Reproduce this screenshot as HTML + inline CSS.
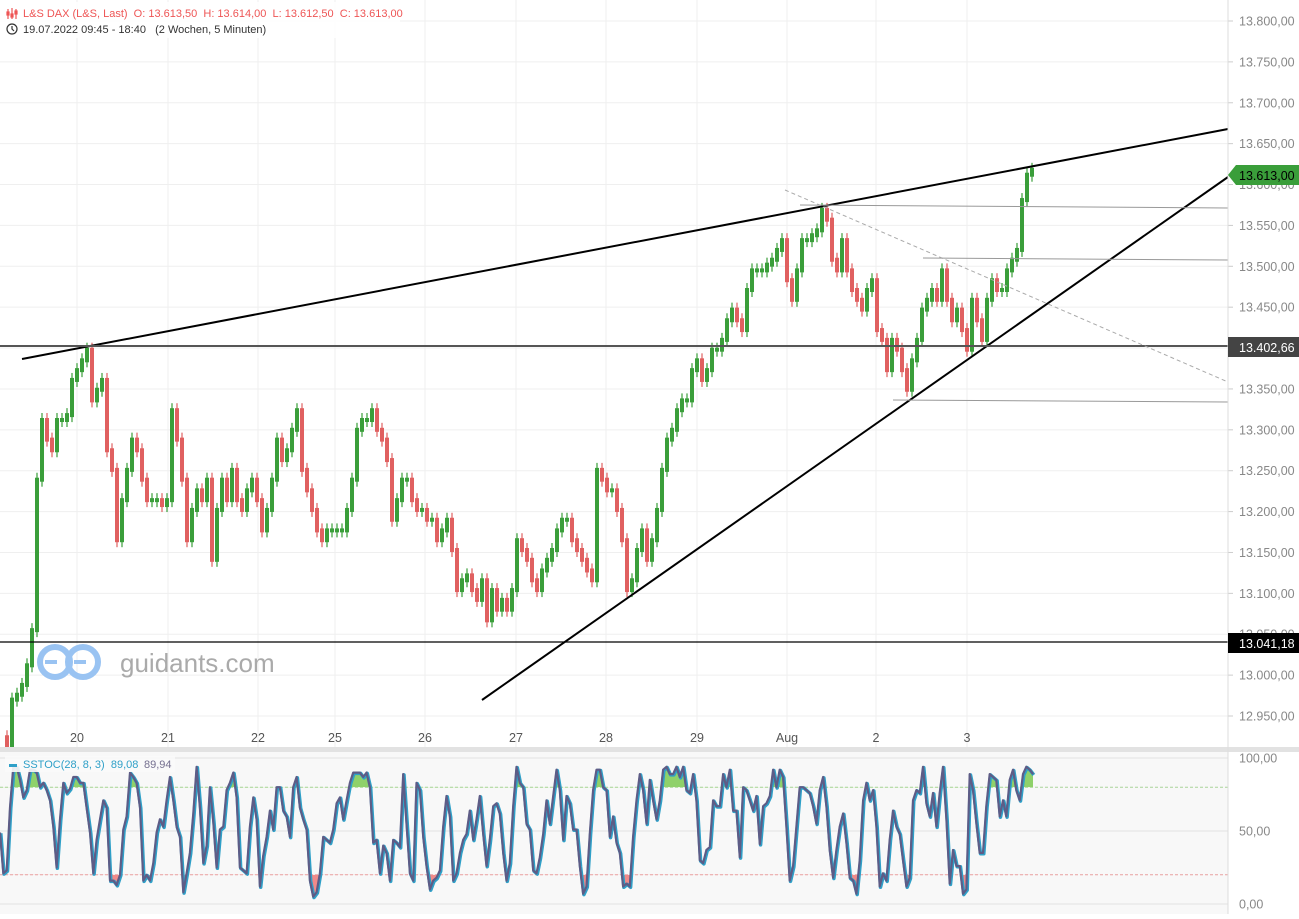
<!DOCTYPE html>
<html><head><meta charset="utf-8">
<style>
html,body{margin:0;padding:0;background:#fff;}
body{width:1299px;height:914px;overflow:hidden;font-family:"Liberation Sans",sans-serif;}
svg text{font-family:"Liberation Sans",sans-serif;white-space:pre;}
</style></head>
<body>
<svg id="chart" width="1299" height="914" viewBox="0 0 1299 914" xmlns="http://www.w3.org/2000/svg">
  <rect x="0" y="0" width="1299" height="914" fill="#fff"/>
  <g id="grid"></g>
  <g id="watermark">
    <circle cx="55" cy="662" r="15" fill="none" stroke="#99c3f2" stroke-width="6"/>
    <circle cx="83" cy="662" r="15" fill="none" stroke="#99c3f2" stroke-width="6"/>
    <rect x="45" y="660" width="12" height="4" fill="#99c3f2"/>
    <rect x="74" y="660" width="12" height="4" fill="#99c3f2"/>
    <text x="120" y="672" font-size="26" fill="#aaa">guidants.com</text>
  </g>
  <g id="candles"></g>
  <g id="drawings">
    <line x1="22" y1="359" x2="1228" y2="129" stroke="#000" stroke-width="2"/>
    <line x1="482" y1="700" x2="1228" y2="177" stroke="#000" stroke-width="2"/>
    <line x1="0" y1="346" x2="1228" y2="346" stroke="#555" stroke-width="2"/>
    <line x1="0" y1="642" x2="1228" y2="642" stroke="#000" stroke-width="1.3"/>
    <line x1="785" y1="190" x2="1228" y2="382" stroke="#aaa" stroke-width="1" stroke-dasharray="4,3"/>
    <line x1="800" y1="205" x2="1228" y2="208" stroke="#999" stroke-width="1"/>
    <line x1="923" y1="258" x2="1228" y2="260" stroke="#999" stroke-width="1"/>
    <line x1="893" y1="400" x2="1228" y2="402" stroke="#999" stroke-width="1"/>
  </g>
  <g id="yaxis"></g>
  <g id="xaxis"></g>
  <rect x="0" y="747" width="1299" height="5" fill="#e2e2e2"/>
  <rect x="0" y="752" width="1228" height="162" fill="#f8f8f8"/>
  <g id="stoch"></g>
  <line x1="1228" y1="0" x2="1228" y2="914" stroke="#ddd" stroke-width="1"/>
  <g id="labels">
    <rect x="1228" y="337" width="71" height="20" fill="#444"/>
    <text x="1239" y="352" font-size="12.5" fill="#fff">13.402,66</text>
    <rect x="1228" y="633" width="71" height="20" fill="#000"/>
    <text x="1239" y="648" font-size="12.5" fill="#fff">13.041,18</text>
    <polygon points="1228,175 1236,165 1299,165 1299,185 1236,185" fill="#3a9e3a"/>
    <text x="1239" y="180" font-size="12.5" fill="#000">13.613,00</text>
  </g>
  <g id="header">
    <rect x="0" y="2" width="400" height="36" fill="#fff" opacity="0.85"/>
    <g stroke="#e55" stroke-width="1.2" fill="none">
      <line x1="8" y1="9" x2="8" y2="19"/><line x1="12" y1="8" x2="12" y2="19"/><line x1="16" y1="9" x2="16" y2="19"/>
      <rect x="7" y="12" width="2" height="3"/><rect x="11" y="14" width="2" height="3"/><rect x="15" y="11" width="2" height="3"/>
    </g>
    <text x="23" y="17" font-size="11" fill="#e55" xml:space="preserve">L&amp;S DAX (L&amp;S, Last)  O: 13.613,50  H: 13.614,00  L: 13.612,50  C: 13.613,00</text>
    <circle cx="12" cy="29" r="5" fill="none" stroke="#333" stroke-width="1.2"/>
    <path d="M12 26 V29 L14 31" fill="none" stroke="#333" stroke-width="1.2"/>
    <text x="23" y="33" font-size="11" fill="#333" xml:space="preserve">19.07.2022 09:45 - 18:40   (2 Wochen, 5 Minuten)</text>
  </g>
  <g>
    <rect x="5" y="756" width="170" height="16" fill="#fafafa" opacity="0.9"/>
    <rect x="9" y="764" width="8" height="3" fill="#2fa0c8"/>
    <text x="23" y="768" font-size="11" fill="#2fa0c8" xml:space="preserve">SSTOC(28, 8, 3)  89,08</text>
    <text x="144" y="768" font-size="11" fill="#757090">89,94</text>
  </g>
</svg>
<script>
// ---- price data (close values, 5-minute aggregated samples) ----
const prices = [12914,12970,12976,12988,13012,13055,13239,13312,13288,13275,13312,13312,13318,13361,13373,13385,13398,13336,13349,13361,
13275,13251,13165,13214,13251,13288,13275,13239,13214,13214,13214,13208,13214,13324,13288,13239,13165,13202,13226,13214,
13239,13141,13202,13239,13214,13251,13214,13202,13226,13239,13214,13177,13202,13239,13288,13263,13275,13300,13324,13251,
13226,13202,13177,13165,13177,13177,13177,13177,13202,13239,13300,13312,13312,13324,13300,13288,13263,13190,13214,13239,
13239,13214,13202,13202,13190,13190,13165,13177,13190,13153,13104,13116,13122,13104,13092,13116,13067,13104,13080,13092,
13080,13104,13165,13153,13141,13116,13104,13128,13141,13153,13177,13190,13190,13165,13153,13141,13128,13116,13251,13239,
13226,13226,13202,13165,13104,13116,13153,13177,13141,13165,13202,13251,13288,13300,13324,13336,13336,13373,13385,13361,
13373,13398,13398,13410,13434,13447,13434,13422,13471,13495,13495,13495,13502,13508,13520,13532,13483,13459,13495,13532,
13532,13538,13544,13569,13557,13508,13495,13532,13495,13471,13459,13447,13471,13483,13422,13410,13373,13410,13398,13373,
13349,13385,13410,13447,13459,13471,13459,13495,13459,13434,13447,13422,13398,13459,13434,13410,13459,13483,13471,13471,
13495,13508,13520,13581,13612,13618];
// ---- stochastic %K values ----
const stoch = [49,21,23,66,94,94,85,73,78,92,92,90,80,83,78,71,53,25,58,83,76,79,87,87,83,83,66,49,21,44,58,71,66,16,16,13,20,51,60,90,
87,83,66,16,20,16,28,49,58,53,71,87,71,53,46,8,21,35,62,94,66,28,40,80,56,25,51,53,78,83,90,73,25,23,21,53,73,58,12,33,
46,64,51,80,80,64,60,46,80,87,66,58,51,16,5,8,21,46,44,42,51,69,73,58,71,83,90,90,90,87,90,80,42,44,21,40,35,16,44,42,
39,89,55,21,16,83,78,46,26,10,16,18,23,53,74,60,16,21,35,44,48,64,44,58,74,48,26,44,67,69,62,35,16,28,67,94,83,80,55,51,
23,21,32,48,71,55,74,92,78,44,74,69,51,51,26,7,12,48,78,92,92,80,78,46,60,42,35,12,14,12,46,71,89,78,55,85,71,58,71,92,
94,89,89,94,87,94,78,76,89,71,30,28,37,39,71,67,
67,89,80,92,64,64,32,80,78,71,64,74,41,67,69,74,92,80,92,87,53,16,26,53,80,80,78,76,67,55,78,87,67,37,18,37,53,62,42,18,
16,7,30,71,83,71,78,53,12,21,16,44,64,53,48,30,12,18,71,78,76,94,69,60,76,53,76,94,58,14,37,26,26,7,10,89,78,55,35,35,
67,89,87,85,60,71,60,85,92,78,71,89,94,92,89];
const priceTicks = [13800,13750,13700,13650,13600,13550,13500,13450,13400,13350,13300,13250,13200,13150,13100,13050,13000,12950];
const dayLabels = ["20","21","22","25","26","27","28","29","Aug","2","3"];
const stochTicks = [100,50,0];

const NS='http://www.w3.org/2000/svg';
function mk(tag,attrs,parent){const e=document.createElementNS(NS,tag);for(const k in attrs)e.setAttribute(k,attrs[k]);parent.appendChild(e);return e;}
const yP = p => 21 + (13800 - p) * (695/850);
const xP = i => 7 + i * 5;
const yS = v => 904 - v * 1.46;
const xS = i => i * (1033/ (stoch.length-1));
const dayX = [77,168,258,335,425,516,606,697,787,876,967];

const grid=document.getElementById('grid'), yaxis=document.getElementById('yaxis'), xaxis=document.getElementById('xaxis');
priceTicks.forEach(t=>{
  const y=yP(t);
  const gl=mk('line',{x1:0,y1:y,x2:1228,y2:y,stroke:'#efefef','stroke-width':1},grid);
  
  
  mk('line',{x1:1228,y1:y,x2:1233,y2:y,stroke:'#ccc'},yaxis);
  const tx=mk('text',{x:1239,y:y+4.5,'font-size':12.5,fill:'#888'},yaxis);
  tx.textContent=t.toLocaleString('de-DE')+',00';
  
  
});
dayLabels.forEach((d,k)=>{
  const x=dayX[k];
  mk('line',{x1:x,y1:0,x2:x,y2:747,stroke:'#efefef'},grid);
  mk('line',{x1:x,y1:752,x2:x,y2:914,stroke:'#e2e2e2'},grid);
  const tx=mk('text',{x:x,y:742,'font-size':12.5,fill:'#555','text-anchor':'middle'},xaxis);
  tx.textContent=d;
  
  
});

// candles
const cg=document.getElementById('candles');
prices.forEach((p,i)=>{
  const prev = i===0 ? p+10 : prices[i-1];
  const up = p>=prev;
  const col = up ? '#3a9e3a' : '#e06060';
  const x=xP(i);
  const hi=Math.max(p,prev), lo=Math.min(p,prev);
  const w=mk('line',{x1:x,y1:yP(hi)-7,x2:x,y2:yP(lo)+7,stroke:col,'stroke-width':1.2},cg);
  
  
  const r=mk('rect',{x:x-2,y:yP(hi)-2,width:4,height:Math.max(3,yP(lo)-yP(hi)+4),fill:col},cg);
  
  
});

// stochastic panel
const sg=document.getElementById('stoch');
stochTicks.forEach(t=>{
  const y=yS(t);
  mk('line',{x1:0,y1:y,x2:1228,y2:y,stroke:'#e2e2e2'},sg);
  const tx=mk('text',{x:1239,y:y+4.5,'font-size':12.5,fill:'#888'},sg);
  tx.textContent=t+',00';
  
  
});
mk('line',{x1:0,y1:yS(80),x2:1228,y2:yS(80),stroke:'#aad49a','stroke-dasharray':'3,2'},sg);
mk('line',{x1:0,y1:yS(20),x2:1228,y2:yS(20),stroke:'#e8a0a0','stroke-dasharray':'3,2'},sg);
const pts=stoch.map((v,i)=>xS(i).toFixed(1)+','+yS(v).toFixed(1)).join(' ');
const defs=mk('defs',{},sg);
const c1=mk('clipPath',{id:'ob'},defs); mk('rect',{x:0,y:0,width:1228,height:yS(80)},c1);
const c2=mk('clipPath',{id:'os'},defs); mk('rect',{x:0,y:yS(20),width:1228,height:100},c2);
const base1='0,'+yS(80)+' '+pts+' '+xS(stoch.length-1)+','+yS(80);
const base2='0,'+yS(20)+' '+pts+' '+xS(stoch.length-1)+','+yS(20);
const f1=mk('polygon',{points:base1,fill:'#8fd16a','clip-path':'url(#ob)'},sg);


const f2=mk('polygon',{points:base2,fill:'#f08a8a','clip-path':'url(#os)'},sg);


const l1=mk('polyline',{points:pts,fill:'none',stroke:'#2fa0c8','stroke-width':3.5,'stroke-linejoin':'round',transform:'translate(0.8,0.8)'},sg);


const l2=mk('polyline',{points:pts,fill:'none',stroke:'#5e5c86','stroke-width':2.2,'stroke-linejoin':'round'},sg);


</script>
</body></html>
